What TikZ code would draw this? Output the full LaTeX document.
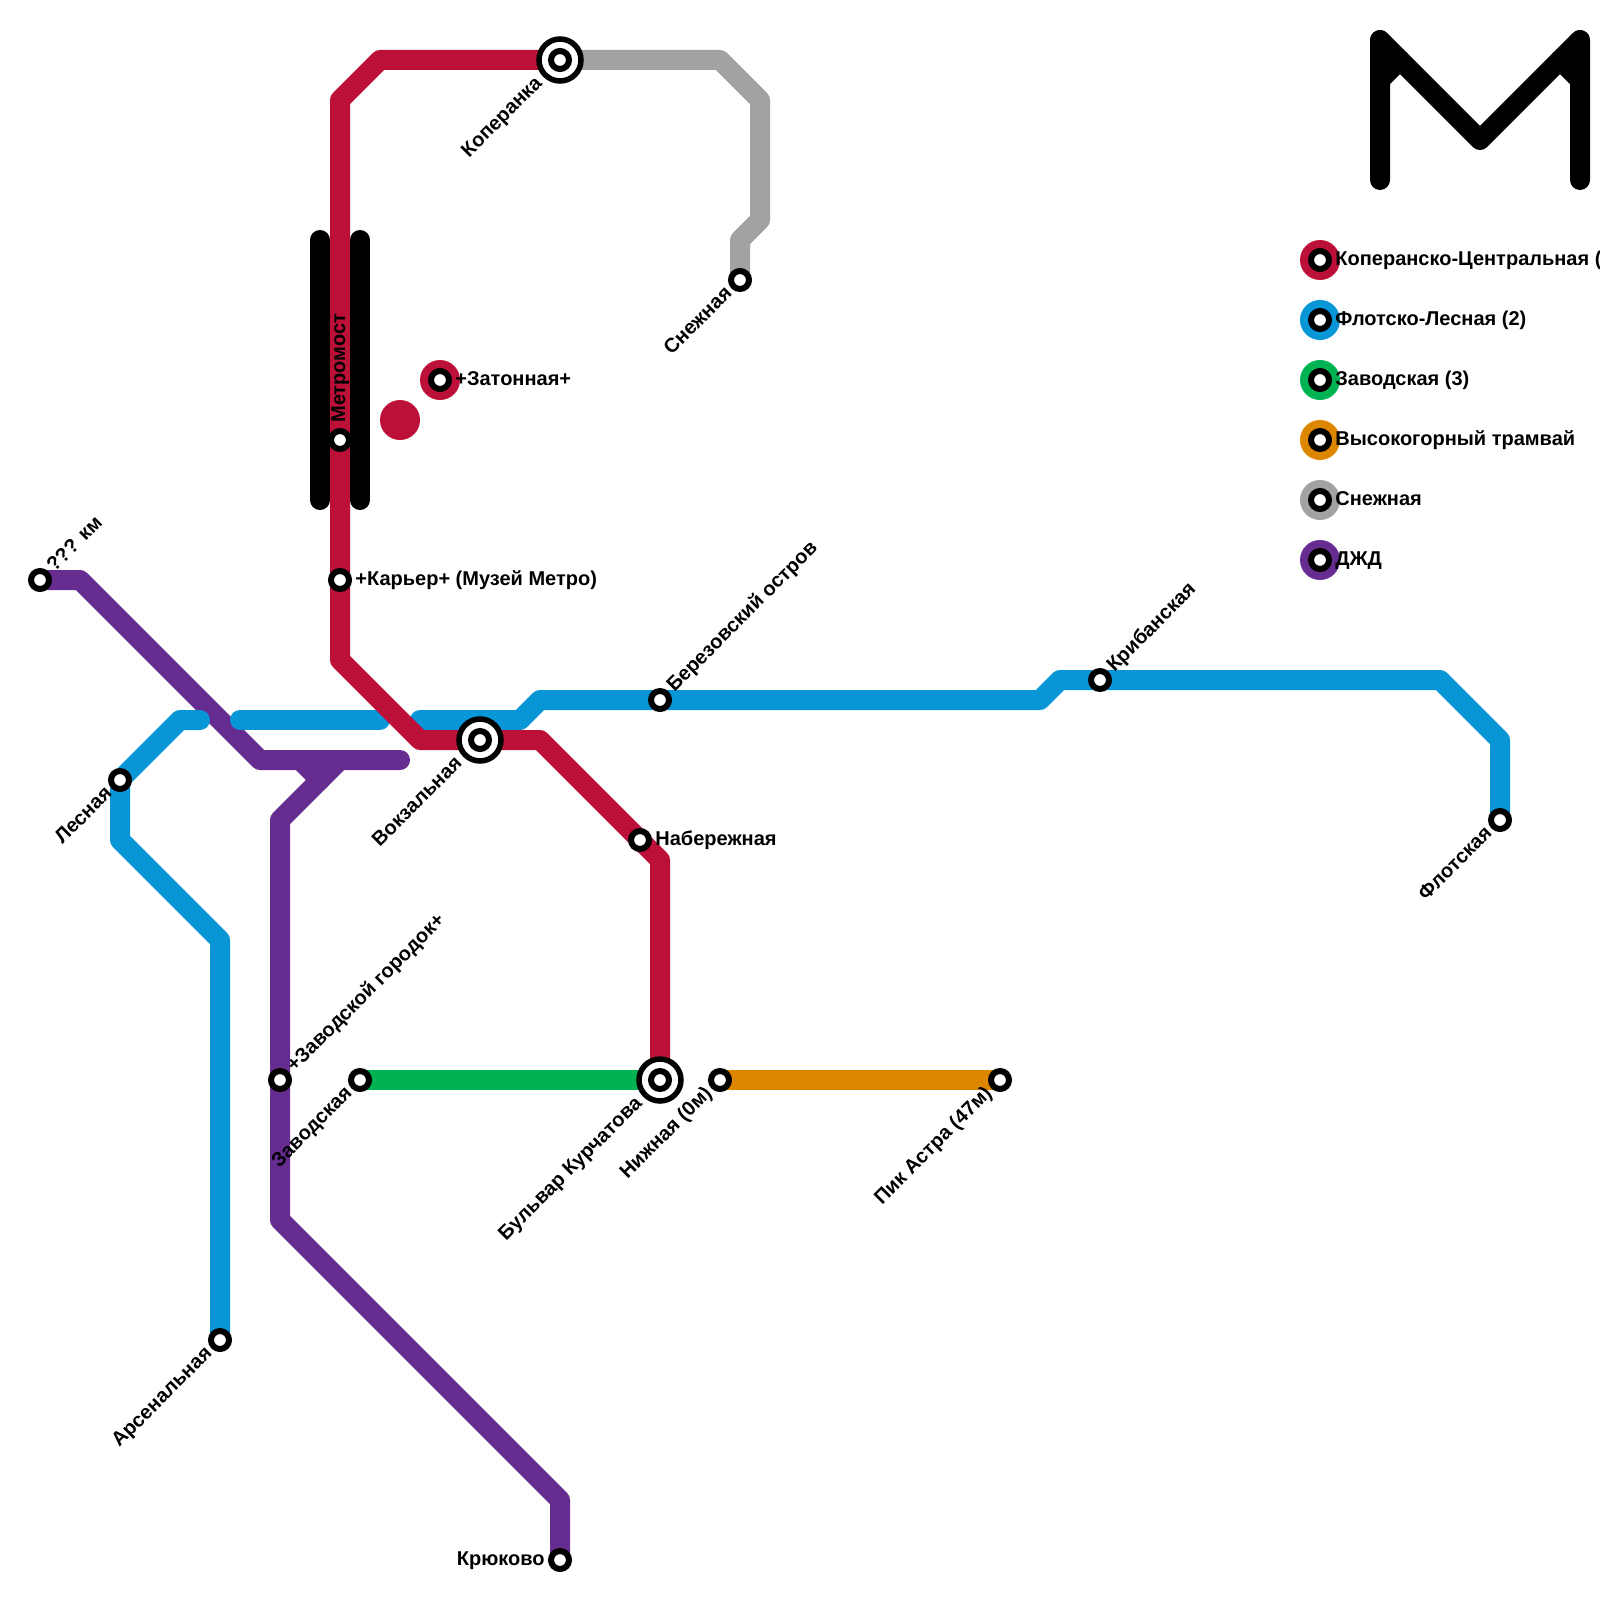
\documentclass[tikz,border=0pt]{standalone}
\usepackage{fontspec}
\usepackage{xcolor}
\usepackage{tikz}
\usetikzlibrary{shapes,positioning,calc}
\setmainfont{Liberation Sans}

\definecolor{lineRed}{HTML}{BD1038}
\definecolor{lineBlue}{HTML}{0896D7}
\definecolor{lineGreen}{HTML}{00B251}
\definecolor{lineOrange}{HTML}{DF8600}
\definecolor{lineGrey}{HTML}{A2A2A2}
\definecolor{linePurple}{HTML}{662C90}

\pgfdeclarelayer{lines}
\pgfsetlayers{lines,main}

\begin{document}
\begin{tikzpicture}[
    x=10pt, y=-10pt,
    track/.style={line width=10pt, line cap=round, line join=round},
    station/.style={circle, draw=black, line width=3pt, fill=white, inner sep=0pt, minimum size=9pt},
    hub/.style={circle, draw=black, line width=2.75pt, fill=white, inner sep=0pt, minimum size=21pt},
    disc/.style={circle, inner sep=0pt, minimum size=20pt},
    lbl/.style={font=\bfseries\fontsize{10}{11}\selectfont, inner sep=0pt, text height=7.2pt, text depth=2pt},
    lblright/.style={lbl, anchor=west, xshift=7.5pt},
    lblleft/.style={lbl, anchor=east, xshift=-7.5pt},
    lblup/.style={lbl, rotate=45, anchor=west, xshift=7.5pt},
    lbldown/.style={lbl, rotate=45, anchor=east, xshift=-7.5pt},
    lblhub/.style={lbl, rotate=45, anchor=east, xshift=-14.5pt},
]
    \useasboundingbox (0,0) rectangle (80,80);

    % interchanges
    \node[hub] (koperankahub) at (28,3) {};
    \node[hub] (vokzalnayahub) at (24,37) {};
    \node[hub] (kurchatovahub) at (33,54) {};

    % stations
    \node[station] (koperanka) at (28,3) {};
    \node[station] (vokzalnaya) at (24,37) {};
    \node[station] (kurchatova) at (33,54) {};
    \node[station] (metromost) at (17,22) {};
    \node[station] (karier) at (17,29) {};
    \node[station] (naberezhnaya) at (32,42) {};
    \node[disc, fill=lineRed] (zatonnayadisc) at (22,19) {};
    \node[station] (zatonnaya) at (22,19) {};
    \node[station] (snezhnaya) at (37,14) {};
    \node[station] (flotskaya) at (75,41) {};
    \node[station] (kribanskaya) at (55,34) {};
    \node[station] (berezovsky) at (33,35) {};
    \node[station] (lesnaya) at (6,39) {};
    \node[station] (arsenalnaya) at (11,67) {};
    \node[station] (km) at (2,29) {};
    \node[station] (gorodok) at (14,54) {};
    \node[station] (kryukovo) at (28,78) {};
    \node[station] (zavodskaya) at (18,54) {};
    \node[station] (nizhnyaya) at (36,54) {};
    \node[station] (astra) at (50,54) {};

    % station names
    \node[lblhub] (koperankalbl) at (koperanka) {Коперанка};
    \node[lblhub] (vokzalnayalbl) at (vokzalnaya) {Вокзальная};
    \node[lblhub] (kurchatovalbl) at (kurchatova) {Бульвар Курчатова};
    \node[lbl, rotate=90, anchor=west, xshift=8.5pt] (metromostlbl) at (metromost) {Метромост};
    \node[lblright] (karierlbl) at (karier) {+Карьер+ (Музей Метро)};
    \node[lblright] (naberezhnayalbl) at (naberezhnaya) {Набережная};
    \node[lblright] (zatonnayalbl) at (zatonnaya) {+Затонная+};
    \node[lbldown] (snezhnayalbl) at (snezhnaya) {Снежная};
    \node[lbldown] (flotskayalbl) at (flotskaya) {Флотская};
    \node[lblup] (kribanskayalbl) at (kribanskaya) {Крибанская};
    \node[lblup] (berezovskylbl) at (berezovsky) {Березовский остров};
    \node[lbldown] (lesnayalbl) at (lesnaya) {Лесная};
    \node[lbldown] (arsenalnayalbl) at (arsenalnaya) {Арсенальная};
    \node[lblup] (kmlbl) at (km) {??? км};
    \node[lblup] (gorodoklbl) at (gorodok) {+Заводской городок+};
    \node[lblleft] (kryukovolbl) at (kryukovo) {Крюково};
    \node[lbldown] (zavodskayalbl) at (zavodskaya) {Заводская};
    \node[lbldown] (nizhnyayalbl) at (nizhnyaya) {Нижная (0м)};
    \node[lbldown] (astralbl) at (astra) {Пик Астра (47м)};

    % legend
    \foreach \row/\col/\txt in {13/lineRed/Коперанско-Центральная (, 16/lineBlue/Флотско-Лесная (2), 19/lineGreen/Заводская (3), 22/lineOrange/Высокогорный трамвай, 25/lineGrey/Снежная, 28/linePurple/ДЖД} {
        \node[disc, fill=\col] (legenddisc\row) at (66,\row) {};
        \node[station] (legend\row) at (66,\row) {};
        \node[lblright] (legendlbl\row) at (legend\row) {\txt};
    }

    \begin{pgfonlayer}{lines}
        \fill[lineRed] (20,21) circle (1);
        \draw[track, linePurple] (km.center) -- (4,29) -- (13,38) -- (20,38);
        \draw[track, linePurple] (15,38) -- (16,39);
        \draw[track, linePurple] (17,38) -- (14,41) -- (gorodok.center) -- (14,61) -- (28,75) -- (kryukovo.center);
        \draw[track, lineBlue] (flotskaya.center) -- (75,37) -- (72,34) -- (kribanskaya.center) -- (53,34) -- (52,35) -- (berezovsky.center) -- (27,35) -- (26,36) -- (21,36);
        \draw[track, lineBlue] (12,36) -- (19,36);
        \draw[track, lineBlue] (10,36) -- (9,36) -- (lesnaya.center) -- (6,42) -- (11,47) -- (arsenalnaya.center);
        \draw[track, lineGrey] (koperanka.center) -- (36,3) -- (38,5) -- (38,11) -- (37,12) -- (snezhnaya.center);
        \draw[track, lineGreen] (zavodskaya.center) -- (kurchatova.center);
        \draw[track, lineOrange] (nizhnyaya.center) -- (astra.center);
        \draw[track, lineRed] (koperanka.center) -- (19,3) -- (17,5) -- (metromost.center) -- (karier.center) -- (17,33) -- (21,37) -- (vokzalnaya.center) -- (27,37) -- (naberezhnaya.center) -- (33,43) -- (kurchatova.center);
        % bridge
        \draw[track, black] (16,12) -- (16,25);
        \draw[track, black] (18,12) -- (18,25);
    \end{pgfonlayer}

    % logo
    \draw[track, black] (69,9) -- (69,2) -- (74,7) -- (79,2) -- (79,9);
    \draw[track, black] (69,4) -- (70,3);
    \draw[track, black] (79,4) -- (78,3);
\end{tikzpicture}
\end{document}
